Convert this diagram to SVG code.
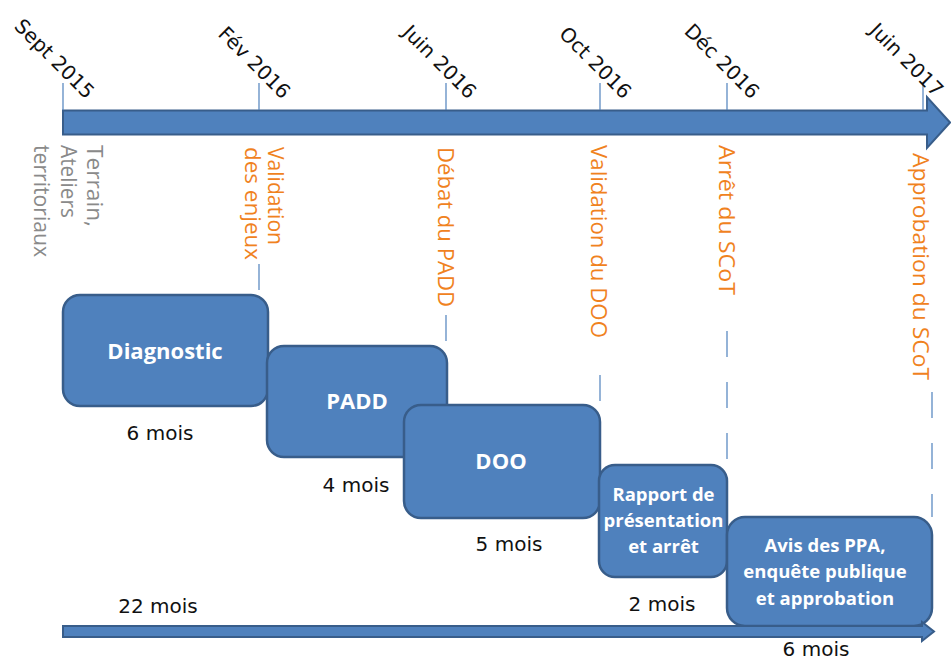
<svg xmlns="http://www.w3.org/2000/svg" width="951" height="662" viewBox="0 0 951 662">
<style>
.date{font-family:"DejaVu Sans",Verdana,sans-serif;font-size:20px;fill:#111;text-anchor:end}
.dur{font-family:"DejaVu Sans",Verdana,sans-serif;font-size:20px;fill:#111;text-anchor:middle}
.ev{font-family:"Open Sans","Liberation Sans",sans-serif;font-size:21.5px;fill:#F0821E}
.gr{font-family:"Open Sans","Liberation Sans",sans-serif;font-size:21px;fill:#8A8A8A}
.box{fill:#4F81BD;stroke:#385D8A;stroke-width:2.5}
.bt{font-family:"Open Sans","Liberation Sans",sans-serif;font-weight:bold;font-size:22px;fill:#fff;text-anchor:middle}
.bs{font-family:"Open Sans","Liberation Sans",sans-serif;font-weight:bold;font-size:18.5px;fill:#fff;text-anchor:middle}
.tick{stroke:#4F81BD;stroke-width:1.2;fill:none}
.dash{stroke:#4F81BD;stroke-width:1.2;fill:none;stroke-dasharray:26 25}
.arrow{fill:#4F81BD;stroke:#385D8A;stroke-width:2}
</style>

<g id="timeline">
<path class="arrow" d="M63,110.5 H927 V97 L950,122.5 L927,148 V134.5 H63 Z"/>
<line class="tick" x1="63" y1="83" x2="63" y2="110"/>
<line class="tick" x1="259" y1="83" x2="259" y2="110"/>
<line class="tick" x1="446" y1="83" x2="446" y2="110"/>
<line class="tick" x1="600" y1="83" x2="600" y2="110"/>
<line class="tick" x1="727" y1="83" x2="727" y2="110"/>
<line class="tick" x1="923" y1="83" x2="923" y2="110"/>
<text class="date" x="86" y="100" transform="rotate(45 86 100)">Sept 2015</text>
<text class="date" x="282" y="100" transform="rotate(45 282 100)">Fév 2016</text>
<text class="date" x="468" y="100" transform="rotate(45 468 100)">Juin 2016</text>
<text class="date" x="623" y="100" transform="rotate(45 623 100)">Oct 2016</text>
<text class="date" x="751" y="100" transform="rotate(45 751 100)">Déc 2016</text>
<text class="date" x="935" y="98" transform="rotate(45 935 98)">Juin 2017</text>
</g>

<g id="labels">
<text class="gr" transform="translate(87,145) rotate(90)" textLength="82" lengthAdjust="spacingAndGlyphs">Terrain,</text>
<text class="gr" transform="translate(61,145) rotate(90)" textLength="73" lengthAdjust="spacingAndGlyphs">Ateliers</text>
<text class="gr" transform="translate(34,145) rotate(90)" textLength="112" lengthAdjust="spacingAndGlyphs">territoriaux</text>
<text class="ev" transform="translate(268,147) rotate(90)" textLength="98" lengthAdjust="spacingAndGlyphs">Validation</text>
<text class="ev" transform="translate(245,147) rotate(90)" textLength="113" lengthAdjust="spacingAndGlyphs">des enjeux</text>
<text class="ev" transform="translate(438,147) rotate(90)" textLength="160" lengthAdjust="spacingAndGlyphs">Débat du PADD</text>
<text class="ev" transform="translate(591,145) rotate(90)" textLength="193" lengthAdjust="spacingAndGlyphs">Validation du DOO</text>
<text class="ev" transform="translate(719,145) rotate(90)" textLength="150" lengthAdjust="spacingAndGlyphs">Arrêt du SCoT</text>
<text class="ev" transform="translate(913,153) rotate(90)" textLength="227" lengthAdjust="spacingAndGlyphs">Approbation du SCoT</text>
</g>

<g id="connectors">
<line class="dash" x1="259" y1="264" x2="259" y2="295"/>
<line class="dash" x1="446" y1="315" x2="446" y2="346"/>
<line class="dash" x1="600" y1="375" x2="600" y2="405"/>
<line class="dash" x1="727" y1="331" x2="727" y2="465"/>
<line class="dash" x1="932" y1="392" x2="932" y2="517"/>
</g>

<g id="diagnostic">
<rect class="box" x="63" y="295" width="205" height="111" rx="17"/>
<text class="bt" x="165" y="359">Diagnostic</text>
<text class="dur" x="160" y="440">6 mois</text>
</g>
<g id="padd">
<rect class="box" x="267" y="346" width="180" height="111" rx="17"/>
<text class="bt" x="357" y="409">PADD</text>
<text class="dur" x="356" y="492">4 mois</text>
</g>
<g id="doo">
<rect class="box" x="404" y="405" width="196" height="113" rx="17"/>
<text class="bt" x="501" y="469">DOO</text>
<text class="dur" x="509" y="551">5 mois</text>
</g>
<g id="rapport">
<rect class="box" x="599" y="465" width="128" height="112" rx="16"/>
<text class="bs" x="663.5" y="501">Rapport de</text>
<text class="bs" x="663.5" y="527">présentation</text>
<text class="bs" x="663.5" y="553">et arrêt</text>
<text class="dur" x="662" y="611">2 mois</text>
</g>
<g id="avis">
<rect class="box" x="727" y="517" width="205" height="109" rx="18"/>
<text class="bs" x="825" y="552">Avis des PPA,</text>
<text class="bs" x="825" y="578">enquête publique</text>
<text class="bs" x="825" y="605">et approbation</text>
<text class="dur" x="816" y="656">6 mois</text>
</g>

<g id="total">
<path class="arrow" d="M63,626 H922 V622 L934,631.5 L922,641 V637 H63 Z" stroke-width="1.5"/>
<text class="dur" x="158" y="613">22 mois</text>
</g>
</svg>
